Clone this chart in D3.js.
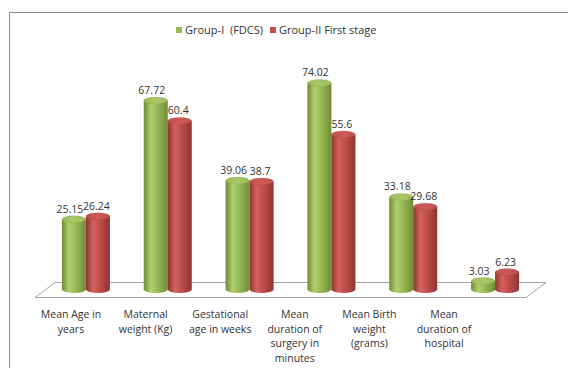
<!DOCTYPE html>
<html>
<head>
<meta charset="utf-8">
<script src="https://cdn.jsdelivr.net/npm/d3@7"></script>
<style>
  html, body { margin: 0; padding: 0; background: #fff; }
  svg { display: block; font-family: "Open Sans", "Liberation Sans", sans-serif; }
</style>
</head>
<body>
<svg id="chart" width="568" height="368"></svg>
<script>
// Category labels (line breaks mark wrapped lines)
const categories = [
  "Mean Age in\nyears",
  "Maternal\nweight (Kg)",
  "Gestational\nage in weeks",
  "Mean\nduration of\nsurgery in\nminutes",
  "Mean Birth\nweight\n(grams)",
  "Mean\nduration of\nhospital"
];
const seriesNames = ["Group-I  (FDCS)", "Group-II First stage"];
const groupI  = [25.15, 67.72, 39.06, 74.02, 33.18, 3.03];
const groupII = [26.24, 60.4, 38.7, 55.6, 29.68, 6.23];

const palette = {
  "Group-I  (FDCS)":       { base: "#9bbb59", light: "#b0d06c", dark: "#6f8c35", top: "#a9c768" },
  "Group-II First stage":  { base: "#c0504d", light: "#d4625e", dark: "#8f3431", top: "#cd5a56" }
};

const svg = d3.select("#chart");
const defs = svg.append("defs");

// Horizontal shading that gives each bar a rounded, cylindrical look
seriesNames.forEach((s, i) => {
  const c = palette[s];
  const g = defs.append("linearGradient").attr("id", "cyl" + i)
    .attr("x1", "0%").attr("x2", "100%").attr("y1", "0%").attr("y2", "0%");
  g.append("stop").attr("offset", "0%").attr("stop-color", c.dark);
  g.append("stop").attr("offset", "30%").attr("stop-color", c.light);
  g.append("stop").attr("offset", "55%").attr("stop-color", c.base);
  g.append("stop").attr("offset", "100%").attr("stop-color", c.dark);
  const t = defs.append("linearGradient").attr("id", "cap" + i)
    .attr("x1", "0%").attr("x2", "100%").attr("y1", "0%").attr("y2", "0%");
  t.append("stop").attr("offset", "0%").attr("stop-color", c.base);
  t.append("stop").attr("offset", "50%").attr("stop-color", c.top);
  t.append("stop").attr("offset", "100%").attr("stop-color", c.base);
});

// Outer chart frame
svg.append("path")
  .attr("d", "M9.5,368 L9.5,12.5 L568,12.5")
  .attr("fill", "none").attr("stroke", "#8c8c8c").attr("stroke-width", 1);

// Legend
const legend = svg.append("g").attr("font-size", 11).attr("fill", "#333");
const legendX = [176, 270];
seriesNames.forEach((s, i) => {
  legend.append("rect").attr("x", legendX[i]).attr("y", 27).attr("width", 6).attr("height", 6)
    .attr("fill", palette[s].base);
  legend.append("text").attr("x", legendX[i] + 9).attr("y", 34).attr("fill", "#333")
    .style("white-space", "pre").text(s);
});

// Scales
const x0 = d3.scaleBand().domain(categories).range([45, 536]);
const x1 = d3.scaleBand().domain(seriesNames).range([-24, 24]);
const y = d3.scaleLinear().domain([0, 80]).range([289.5, 289.5 - 80 * 2.79]);
const labelX = d3.scalePoint().domain(categories).range([71, 444]);
const labelShift = [-4, -1.5];

// Floor of the 3D plot area
const floor = [[55, 282.5], [546, 282.5], [526, 297.5], [35, 297.5]];
svg.append("path")
  .attr("d", d3.line()(floor) + "Z")
  .attr("fill", "#fff").attr("stroke", "#a6a6a6").attr("stroke-width", 1);

// Cylinder bars
const ry = 3.5;
const rows = categories.map((c, i) => ({ cat: c, values: [groupI[i], groupII[i]] }));
const barsG = svg.append("g");
const valG = svg.append("g").attr("font-size", 10.5).attr("fill", "#333");
rows.forEach(row => {
  row.values.forEach((v, si) => {
    const s = seriesNames[si];
    const cx = x0(row.cat) + x0.bandwidth() / 2 + x1(s) + x1.bandwidth() / 2;
    const rx = x1.bandwidth() / 2;
    const yb = y(0), yt = y(v);
    const g = barsG.append("g");
    g.append("path")
      .attr("d", `M${cx - rx},${yt} L${cx - rx},${yb} A${rx},${ry} 0 0 0 ${cx + rx},${yb} L${cx + rx},${yt} Z`)
      .attr("fill", `url(#cyl${si})`);
    g.append("ellipse").attr("cx", cx).attr("cy", yt).attr("rx", rx).attr("ry", ry)
      .attr("fill", `url(#cap${si})`).attr("stroke", palette[s].dark).attr("stroke-opacity", 0.35).attr("stroke-width", 0.6);
    // value label
    valG.append("text")
      .attr("x", cx + labelShift[si]).attr("y", yt - ry - 3)
      .attr("text-anchor", "middle").attr("fill", "#333")
      .text(v);
  });
});
valG.raise();

// Category labels
const catG = svg.append("g").attr("font-size", 10.5).attr("fill", "#333");
categories.forEach(c => {
  const t = catG.append("text").attr("text-anchor", "middle").attr("fill", "#333");
  c.split("\n").forEach((line, k) => {
    t.append("tspan").attr("x", labelX(c)).attr("y", 318 + k * 14.5).text(line);
  });
});
</script>
</body>
</html>
